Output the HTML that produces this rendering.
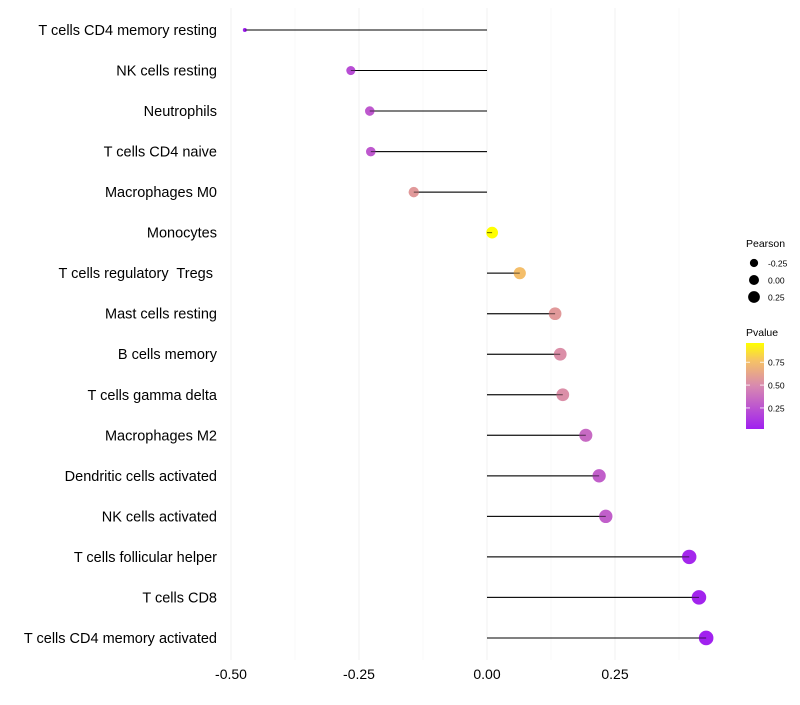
<!DOCTYPE html>
<html><head><meta charset="utf-8"><style>
body{margin:0;background:#fff;font-family:"Liberation Sans",sans-serif}
svg text{font-family:"Liberation Sans",sans-serif;white-space:pre}
</style></head><body>
<svg id="chart" width="800" height="700" xmlns="http://www.w3.org/2000/svg">
<g id="grid"></g><g id="marks"></g><g id="labels"></g><g id="legend"></g>
</svg>
<script>
const categories=["T cells CD4 memory resting","NK cells resting","Neutrophils","T cells CD4 naive","Macrophages M0","Monocytes","T cells regulatory  Tregs ","Mast cells resting","B cells memory","T cells gamma delta","Macrophages M2","Dendritic cells activated","NK cells activated","T cells follicular helper","T cells CD8","T cells CD4 memory activated"];
const pearson=[-0.473,-0.266,-0.229,-0.227,-0.143,0.010,0.064,0.133,0.143,0.148,0.193,0.219,0.232,0.395,0.414,0.428];
const pvalue=[0.01,0.22,0.27,0.27,0.57,0.97,0.75,0.57,0.52,0.52,0.35,0.3,0.3,0.05,0.04,0.03];
const xTicks=[-0.5,-0.25,0,0.25];
const xTickLabels=["-0.50","-0.25","0.00","0.25"];
const minorTicks=[-0.375,-0.125,0.125,0.375];
const sizeLegend=[-0.25,0,0.25];
const sizeLegendLabels=["-0.25","0.00","0.25"];
const colorLegend=[0.25,0.5,0.75];
const colorLegendLabels=["0.25","0.50","0.75"];

const NS="http://www.w3.org/2000/svg";
const X=v=>487+512*v;
const Y=i=>30+i*40.53;
const pmin=0.02,pmax=0.96;
const stops=[[0,[160,32,240]],[0.5,[216,137,176]],[0.8,[246,195,100]],[1,[255,255,0]]];
function col(p){let t=(p-pmin)/(pmax-pmin);t=Math.max(0,Math.min(1,t));
 for(let k=1;k<stops.length;k++){if(t<=stops[k][0]){const a=stops[k-1],b=stops[k];const f=(t-a[0])/(b[0]-a[0]);
 return 'rgb('+a[1].map((c,j)=>Math.round(c+(b[1][j]-c)*f)).join(',')+')';}}return 'rgb(255,255,0)';}
const vmin=Math.min(...pearson),vmax=Math.max(...pearson);
const R=v=>2+5.3*Math.sqrt((v-vmin)/(vmax-vmin));
const LR=v=>Math.max(2.5,Math.min(7,5+3.5*v));
function mk(tag,attrs,parent,txt){const e=document.createElementNS(NS,tag);for(const k in attrs)e.setAttribute(k,attrs[k]);if(txt!==undefined)e.textContent=txt;document.getElementById(parent).appendChild(e);return e;}

minorTicks.forEach(t=>{const e=mk('line',{x1:X(t),x2:X(t),y1:8,y2:660,stroke:'#f6f6f6','stroke-width':0.6},'grid');
});
xTicks.forEach((t,i)=>{const e=mk('line',{x1:X(t),x2:X(t),y1:8,y2:660,stroke:'#f0f0f0','stroke-width':1},'grid');

const l=mk('text',{x:X(t),y:679,'text-anchor':'middle','font-size':14,fill:'#000'},'labels',xTickLabels[i]);
});

categories.forEach((c,i)=>{const y=Y(i);
const l=mk('text',{x:217,y:y+5,'text-anchor':'end','font-size':14.5,fill:'#000'},'labels',c);

const s=mk('line',{x1:X(0),x2:X(pearson[i]),y1:y,y2:y,stroke:'#000','stroke-width':1},'marks');

const d=mk('circle',{cx:X(pearson[i]),cy:y,r:R(pearson[i]),fill:col(pvalue[i])},'marks');

const s2=mk('line',{x1:X(0),x2:X(pearson[i]),y1:y,y2:y,stroke:'#000','stroke-width':1,'stroke-opacity':0.6},'marks');
});

const lt=mk('text',{x:746,y:247,'font-size':10.5},'legend','Pearson');

sizeLegend.forEach((v,i)=>{const y=263+i*17;
const c=mk('circle',{cx:754,cy:y,r:LR(v),fill:'#000'},'legend');
const t=mk('text',{x:768,y:y+3.5,'font-size':8.5},'legend',sizeLegendLabels[i]);});
const ct=mk('text',{x:746,y:336,'font-size':10.5},'legend','Pvalue');

const defs=mk('defs',{},'legend');const g=document.createElementNS(NS,'linearGradient');g.setAttribute('id','pg');g.setAttribute('x1','0');g.setAttribute('y1','1');g.setAttribute('x2','0');g.setAttribute('y2','0');defs.appendChild(g);
stops.forEach(s=>{const st=document.createElementNS(NS,'stop');st.setAttribute('offset',s[0]);st.setAttribute('stop-color','rgb('+s[1].join(',')+')');g.appendChild(st);});
const bar=mk('rect',{x:746,y:343,width:18,height:86,fill:'url(#pg)'},'legend');

colorLegend.forEach((v,i)=>{const y=343+(pmax-v)/(pmax-pmin)*86;
const tk=mk('line',{x1:746,x2:750,y1:y,y2:y,stroke:'#fff','stroke-width':0.8},'legend');
const tk2=mk('line',{x1:760,x2:764,y1:y,y2:y,stroke:'#fff','stroke-width':0.8},'legend');
const t=mk('text',{x:768,y:y+3.5,'font-size':8.5},'legend',colorLegendLabels[i]);});
</script>
</body></html>
